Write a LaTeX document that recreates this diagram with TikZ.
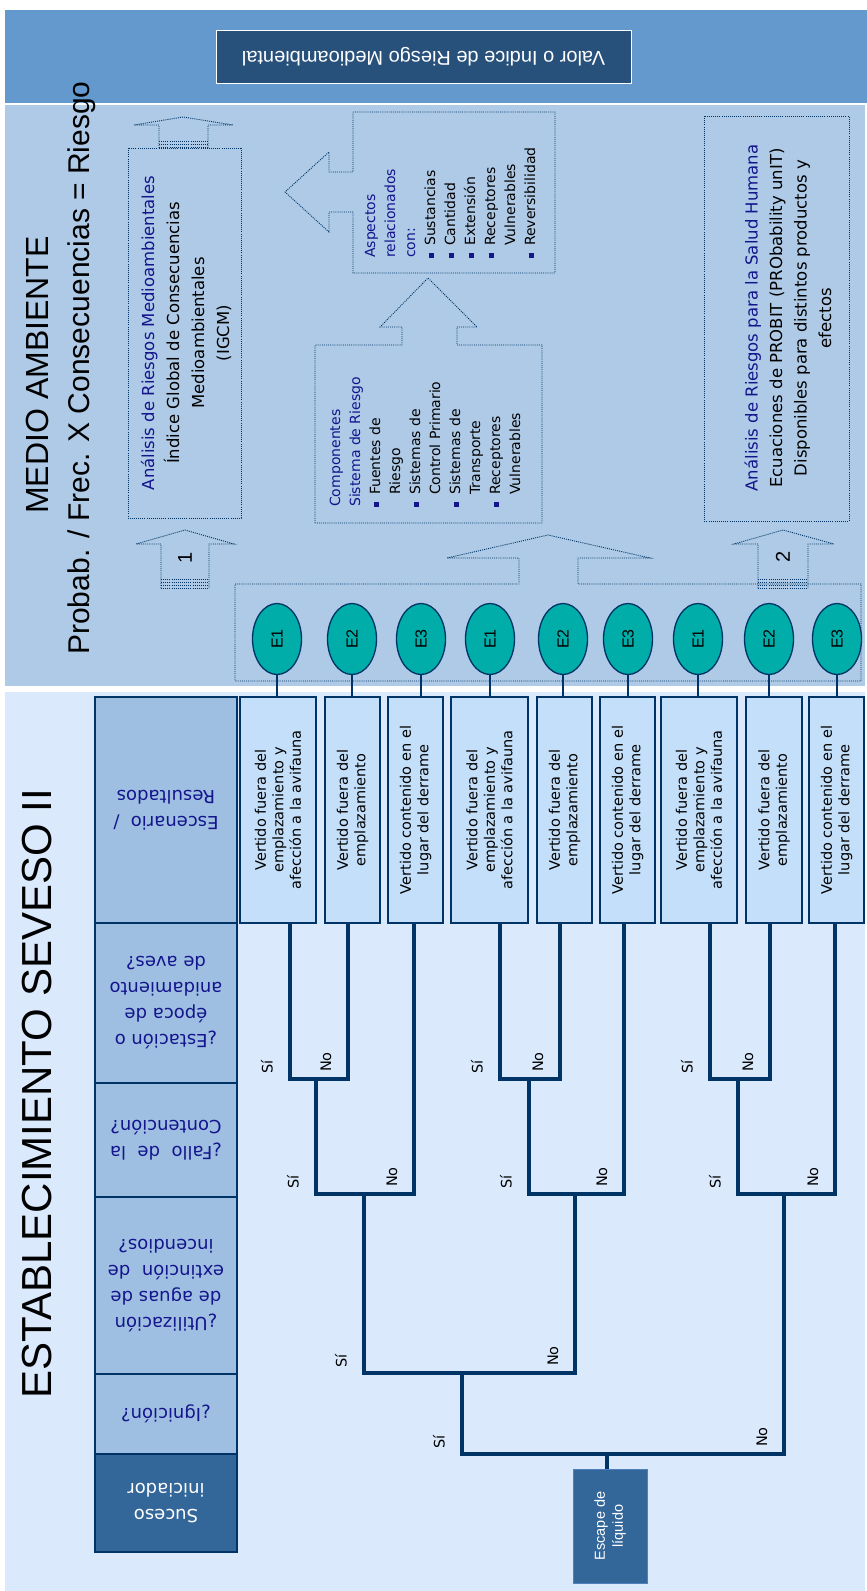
\documentclass[tikz,border=0pt]{standalone}
\usepackage{fontspec}
\usepackage{graphicx}
\setmainfont{DejaVu Sans}
\newfontfamily\arialf{Liberation Sans}
\usetikzlibrary{shapes.geometric}
\definecolor{bandc}{RGB}{99,153,205}
\definecolor{valorc}{RGB}{39,80,122}
\definecolor{upperc}{RGB}{174,202,230}
\definecolor{lowerc}{RGB}{218,234,252}
\definecolor{hdrc}{RGB}{158,191,225}
\definecolor{sucesoc}{RGB}{51,102,153}
\definecolor{scenc}{RGB}{195,223,250}
\definecolor{navyl}{RGB}{0,51,102}
\definecolor{navyt}{RGB}{20,20,140}
\definecolor{tealc}{RGB}{0,173,168}
\definecolor{escb}{RGB}{79,129,189}
\newcommand{\bul}{\textcolor{navyt}{\rule[1.5pt]{5pt}{5pt}}}
\newcommand{\hdrtext}[1]{\rotatebox{180}{\parbox{128pt}{\centering\fontsize{18}{26}\selectfont #1}}}
\newcommand{\scentext}[1]{\rotatebox{90}{\parbox{215pt}{\centering\fontsize{14.5}{17.5}\selectfont #1}}}
\begin{document}
\begin{tikzpicture}[x=1pt,y=-1pt,
  dotl/.style={draw=navyl, line width=0.9pt, dash pattern=on 1pt off 1.1pt},
  tree/.style={draw=navyl, line width=3.2pt},
  thinl/.style={draw=navyl, line width=1.3pt},
  hdr/.style={draw=navyl, line width=1.3pt, fill=hdrc, inner sep=0pt, minimum width=142pt, text=navyt},
  scen/.style={draw=navyl, line width=1.3pt, fill=scenc, inner sep=0pt, minimum height=226pt},
  ev/.style={ellipse, draw=navyl, line width=1.3pt, fill=tealc, minimum width=49pt, minimum height=71pt, inner sep=0pt, font=\arialf\fontsize{16}{18}\selectfont},
  yes/.style={rotate=90, inner sep=0pt, font=\fontsize{14.5}{16}\selectfont},
]
\useasboundingbox (0,0) rectangle (867,1591);
\fill[white] (0,0) rectangle (867,1591);
\fill[bandc] (5,10) rectangle (867,103);
\fill[upperc] (5,105) rectangle (865,686);
\fill[lowerc] (5,692) rectangle (865,1591);

% top band
\node[draw=white, line width=1pt, fill=valorc, minimum width=415pt, minimum height=53pt, inner sep=0pt] (valor) at (423.5,56.5)
  {\rotatebox{180}{\arialf\fontsize{20}{24}\selectfont\color{white}Valor o Indice de Riesgo Medioambiental}};

% titles
\node[rotate=90, inner sep=0pt, font=\arialf\fontsize{32}{38}\selectfont] (t1) at (37,375) {MEDIO AMBIENTE};
\node[rotate=90, inner sep=0pt, font=\arialf\fontsize{30}{36}\selectfont] (t2) at (82,368) {Probab. / Frec. X Consecuencias = Riesgo};
\node[rotate=90, inner sep=0pt, font=\arialf\fontsize{42}{48}\selectfont] (t3) at (37,1094) {ESTABLECIMIENTO SEVESO II};

% IGCM box and arrows
\draw[dotl] (128,148) rectangle (241,518);
\draw[dotl] (159,148) -- (159,125) -- (134,125) -- (183,117) -- (233,125) -- (208,125) -- (208,148);
\foreach \yy in {141,144,147} \draw[dotl] (159,\yy) -- (208,\yy);
\node[inner sep=0pt] (igcm) at (186,333) {\rotatebox{90}{\parbox{360pt}{\centering\fontsize{16.5}{25}\selectfont
  \textcolor{navyt}{Análisis de Riesgos Medioambientales}\\Índice Global de Consecuencias\\Medioambientales\\(IGCM)}}};

% arrow 1
\draw[dotl] (161,588) -- (161,544) -- (136,544) -- (185,530) -- (234,544) -- (209,544) -- (209,588);
\foreach \yy in {579,582,585,588} \draw[dotl] (161,\yy) -- (209,\yy);
\node[rotate=90, inner sep=0pt, font=\arialf\fontsize{20}{24}\selectfont] (n1) at (185,558) {1};

% arrow 2
\draw[dotl] (758,588) -- (758,544) -- (734,544) -- (783,530) -- (834,544) -- (808,544) -- (808,588);
\foreach \yy in {579,582,585,588} \draw[dotl] (758,\yy) -- (808,\yy);
\node[rotate=90, inner sep=0pt, font=\arialf\fontsize{20}{24}\selectfont] (n2) at (783,557) {2};

% Componentes box with up arrow
\draw[dotl] (315,523) -- (315,345) -- (402,345) -- (402,327) -- (380,327) -- (428,278) -- (477,327) -- (457,327) -- (457,345) -- (542,345) -- (542,523) -- cycle;
\node[inner sep=0pt, anchor=south west] (comp) at (326,507) {\rotatebox{90}{\fontsize{14}{20}\selectfont
  \begin{tabular}{@{}l@{\hspace{7pt}}l@{}}
  \multicolumn{2}{@{}l@{}}{\textcolor{navyt}{Componentes}}\\
  \multicolumn{2}{@{}l@{}}{\textcolor{navyt}{Sistema de Riesgo}}\\
  \bul & Fuentes de\\
       & Riesgo\\
  \bul & Sistemas de\\
       & Control Primario\\
  \bul & Sistemas de\\
       & Transporte\\
  \bul & Receptores\\
       & Vulnerables
  \end{tabular}}};

% Aspectos box with left arrow
\draw[dotl] (353,112) -- (555,112) -- (555,273) -- (353,273) -- (353,212) -- (329,212) -- (329,232) -- (285,192) -- (329,152) -- (329,172) -- (353,172) -- cycle;
\node[inner sep=0pt, anchor=south west] (asp) at (361,258) {\rotatebox{90}{\fontsize{14}{20}\selectfont
  \begin{tabular}{@{}l@{\hspace{7pt}}l@{}}
  \multicolumn{2}{@{}l@{}}{\textcolor{navyt}{Aspectos}}\\
  \multicolumn{2}{@{}l@{}}{\textcolor{navyt}{relacionados}}\\
  \multicolumn{2}{@{}l@{}}{\textcolor{navyt}{con:}}\\
  \bul & Sustancias\\
  \bul & Cantidad\\
  \bul & Extensión\\
  \bul & Receptores\\
       & Vulnerables\\
  \bul & Reversibilidad
  \end{tabular}}};

% Salud box
\draw[dotl] (704,116) rectangle (849,521);
\node[inner sep=0pt] (salud) at (788,318) {\rotatebox{90}{\parbox{398pt}{\centering\fontsize{16.5}{24.5}\selectfont
  \textcolor{navyt}{Análisis de Riesgos para la Salud Humana}\\Ecuaciones de PROBIT (PRObability unIT)\\Disponibles para distintos productos y\\efectos}}};

% E container with big up arrow
\draw[dotl] (235,584) -- (519,584) -- (519,558) -- (447,558) -- (548,535) -- (650,558) -- (578,558) -- (578,584) -- (861,584) -- (861,681) -- (235,681) -- cycle;

% E ellipses
\node[ev] (e1) at (277,639) {\rotatebox{90}{E1}};
\node[ev] (e2) at (352,639) {\rotatebox{90}{E2}};
\node[ev] (e3) at (421,639) {\rotatebox{90}{E3}};
\node[ev] (e4) at (490,639) {\rotatebox{90}{E1}};
\node[ev] (e5) at (563,639) {\rotatebox{90}{E2}};
\node[ev] (e6) at (628,639) {\rotatebox{90}{E3}};
\node[ev] (e7) at (698,639) {\rotatebox{90}{E1}};
\node[ev] (e8) at (769,639) {\rotatebox{90}{E2}};
\node[ev] (e9) at (837,639) {\rotatebox{90}{E3}};

% header column
\node[hdr, minimum height=226pt] (h1) at (166,810) {\hdrtext{Escenario \ /\\Resultados}};
\node[hdr, minimum height=160pt] (h2) at (166,1003) {\hdrtext{¿Estación o\\época de\\anidamiento\\de aves?}};
\node[hdr, minimum height=114pt] (h3) at (166,1140) {\hdrtext{¿Fallo \ de \ la\\Contención?}};
\node[hdr, minimum height=177pt] (h4) at (166,1285.5) {\hdrtext{¿Utilización\\de aguas de\\extinción \ de\\incendios?}};
\node[hdr, minimum height=80pt] (h5) at (166,1414) {\hdrtext{¿Ignición?}};
\node[hdr, minimum height=98pt, fill=sucesoc, text=white] (h6) at (166,1503) {\hdrtext{Suceso\\iniciador}};

% scenario boxes
\node[scen, minimum width=76pt] (s1) at (278,810) {\scentext{Vertido fuera del\\emplazamiento y\\afección a la avifauna}};
\node[scen, minimum width=55pt] (s2) at (352.5,810) {\scentext{Vertido fuera del\\emplazamiento}};
\node[scen, minimum width=55pt] (s3) at (415.5,810) {\scentext{Vertido contenido en el\\lugar del derrame}};
\node[scen, minimum width=77pt] (s4) at (489.5,810) {\scentext{Vertido fuera del\\emplazamiento y\\afección a la avifauna}};
\node[scen, minimum width=55pt] (s5) at (564.5,810) {\scentext{Vertido fuera del\\emplazamiento}};
\node[scen, minimum width=55pt] (s6) at (627.5,810) {\scentext{Vertido contenido en el\\lugar del derrame}};
\node[scen, minimum width=76pt] (s7) at (699,810) {\scentext{Vertido fuera del\\emplazamiento y\\afección a la avifauna}};
\node[scen, minimum width=56pt] (s8) at (774,810) {\scentext{Vertido fuera del\\emplazamiento}};
\node[scen, minimum width=55pt] (s9) at (836.5,810) {\scentext{Vertido contenido en el\\lugar del derrame}};

% ellipse to box connectors
\foreach \i in {1,...,9} \draw[thinl] (e\i.south) -- (s\i.north -| e\i.south);

% initiating event
\node[fill=sucesoc, draw=escb, line width=1pt, minimum width=74pt, minimum height=114pt, inner sep=0pt] (esc) at (610,1526)
  {\rotatebox{90}{\parbox{100pt}{\centering\arialf\fontsize{14.5}{18}\selectfont\color{white}Escape de\\líquido}}};

% tree coordinates
\coordinate (a1) at (290,1079); \coordinate (a2) at (348,1079);
\coordinate (a4) at (500,1079); \coordinate (a5) at (560,1079);
\coordinate (a7) at (710,1079); \coordinate (a8) at (770,1079);
\coordinate (b1) at (316,1194); \coordinate (b3) at (414,1194);
\coordinate (b4) at (529,1194); \coordinate (b6) at (624,1194);
\coordinate (b7) at (738,1194); \coordinate (b9) at (835,1194);
\coordinate (c1) at (364,1373); \coordinate (c2) at (575,1373);
\coordinate (d1) at (462,1454); \coordinate (d2) at (784,1454);
\coordinate (r) at (607,1454);

\draw[tree] (s1.south -| a1) -- (a1) -- (a2) -- (s2.south -| a2);
\draw[tree] (s4.south -| a4) -- (a4) -- (a5) -- (s5.south -| a5);
\draw[tree] (s7.south -| a7) -- (a7) -- (a8) -- (s8.south -| a8);
\draw[tree] (b1 |- a1) -- (b1) -- (b3) -- (s3.south -| b3);
\draw[tree] (b4 |- a4) -- (b4) -- (b6) -- (s6.south -| b6);
\draw[tree] (b7 |- a7) -- (b7) -- (b9) -- (s9.south -| b9);
\draw[tree] (c1 |- b1) -- (c1) -- (c2) -- (c2 |- b4);
\draw[tree] (d1 |- c1) -- (d1) -- (d2) -- (d2 |- b7);
\draw[tree] (r) -- (esc.north -| r);

% branch labels
\node[yes] (y41) at (267,1067) {Sí};  \node[yes] (n41) at (326,1062) {No};
\node[yes] (y42) at (477,1067) {Sí};  \node[yes] (n42) at (538,1062) {No};
\node[yes] (y43) at (687,1067) {Sí};  \node[yes] (n43) at (748,1062) {No};
\node[yes] (y31) at (293,1182) {Sí};  \node[yes] (n31) at (392,1177) {No};
\node[yes] (y32) at (506,1182) {Sí};  \node[yes] (n32) at (602,1177) {No};
\node[yes] (y33) at (715,1182) {Sí};  \node[yes] (n33) at (813,1177) {No};
\node[yes] (y21) at (341,1361) {Sí};  \node[yes] (n21) at (553,1356) {No};
\node[yes] (y11) at (439,1442) {Sí};  \node[yes] (n11) at (762,1437) {No};
\end{tikzpicture}
\end{document}
